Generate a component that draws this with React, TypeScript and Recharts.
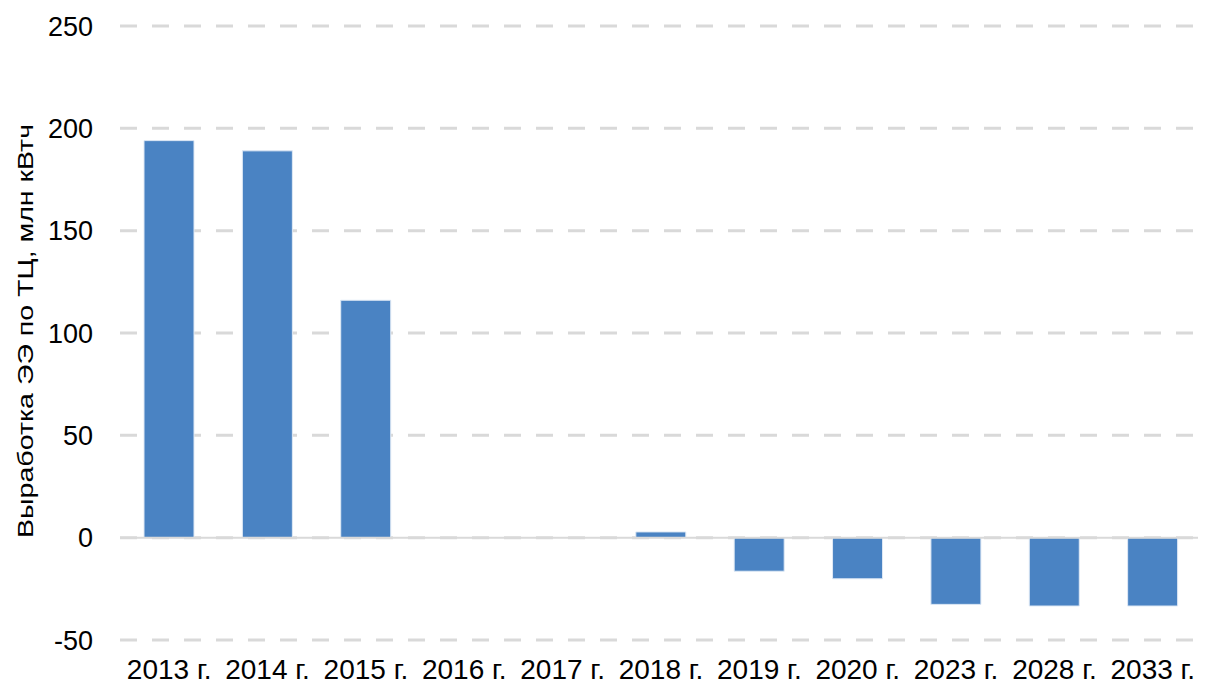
import React from 'react';
import {
  BarChart,
  Bar,
  XAxis,
  YAxis,
  CartesianGrid,
  ReferenceLine,
} from 'recharts';

const years = [
  '2013 г.',
  '2014 г.',
  '2015 г.',
  '2016 г.',
  '2017 г.',
  '2018 г.',
  '2019 г.',
  '2020 г.',
  '2023 г.',
  '2028 г.',
  '2033 г.',
];
const output = [194, 189, 116, 0, 0, 2.8, -16.4, -20.1, -32.6, -33.4, -33.4];
const yTicks = [-50, 0, 50, 100, 150, 200, 250];
const yTitle = 'Выработка ЭЭ по ТЦ, млн кВтч';

const data = years.map((year, i) => ({ year, value: output[i] }));

const font = 'Liberation Sans, Arial, sans-serif';

const YTitle = (props: any) => {
  const { viewBox } = props;
  const cx = viewBox.x + 25;
  const cy = viewBox.y + viewBox.height / 2 - 2;
  return (
    <text
      x={cx}
      y={cy}
      transform={`rotate(-90, ${cx}, ${cy})`}
      textAnchor="middle"
      dominantBaseline="central"
      fontFamily={font}
      fontSize={22}
      textLength={414}
      lengthAdjust="spacingAndGlyphs"
      fill="#000"
    >
      {yTitle}
    </text>
  );
};

const App: React.FC = () => {
  return (
    <div style={{ margin: -8, width: 1206, height: 689, background: '#fff' }}>
      <BarChart
        width={1206}
        height={689}
        data={data}
        margin={{ top: 26, right: 4, bottom: 0, left: 0 }}
      >
        <CartesianGrid
          vertical={false}
          stroke="#d9d9d9"
          strokeWidth={3}
          strokeDasharray="17 15"
        />
        <XAxis
          dataKey="year"
          interval={0}
          axisLine={false}
          tickLine={false}
          tickMargin={13}
          height={49}
          tick={{ fontFamily: font, fontSize: 28, fill: '#000' }}
        />
        <YAxis
          domain={[-50, 250]}
          ticks={yTicks}
          width={120}
          axisLine={false}
          tickLine={false}
          tickMargin={21}
          tick={{ fontFamily: font, fontSize: 27, fill: '#000' }}
          label={<YTitle />}
        />
        <ReferenceLine y={0} stroke="#d9d9d9" strokeWidth={2} />
        <Bar
          dataKey="value"
          fill="#4a83c3"
          stroke="#dfe9f5"
          strokeWidth={1}
          barSize={50}
          isAnimationActive={false}
        />
      </BarChart>
    </div>
  );
};

export default App;
